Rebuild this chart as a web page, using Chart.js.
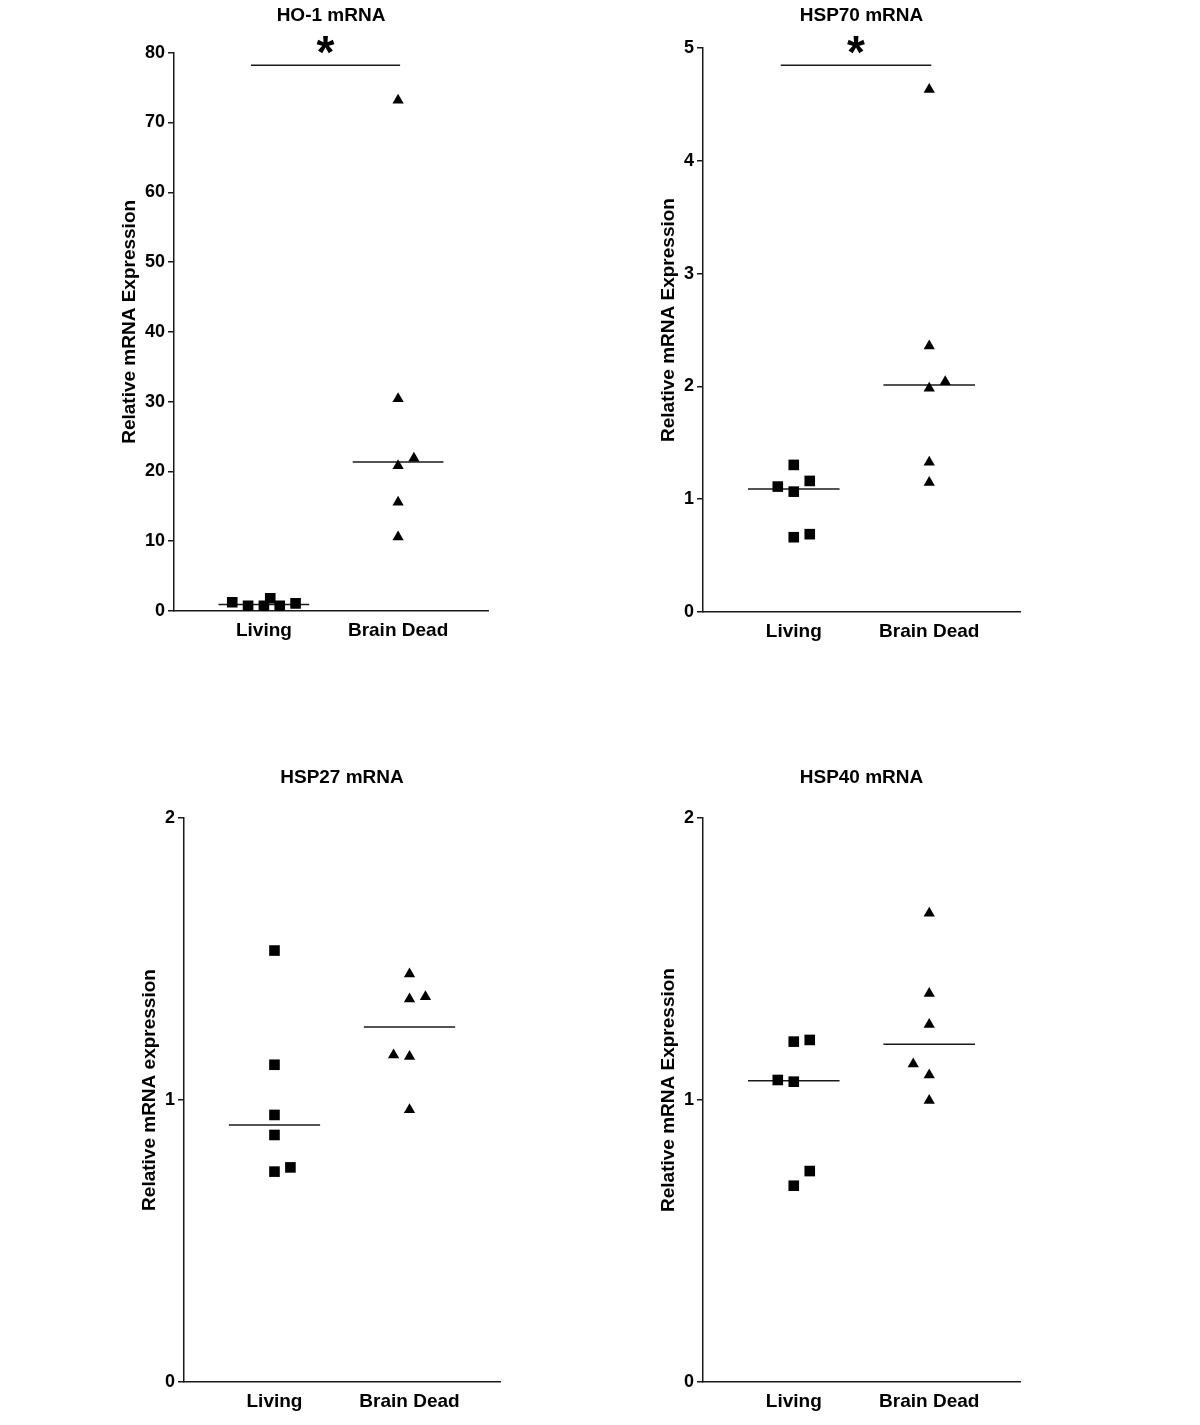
<!DOCTYPE html>
<html>
<head>
<meta charset="utf-8">
<title>Relative mRNA expression: Living vs Brain Dead</title>
<script src="https://cdn.jsdelivr.net/npm/chart.js@4.4.1/dist/chart.umd.min.js"></script>
<style>
  body { margin: 0; background: #fff; }
  #wrap { position: relative; width: 1200px; height: 1425px; }
  canvas { position: absolute; }
</style>
</head>
<body>
<div id="wrap">
  <canvas id="ho1Chart" width="600" height="700" style="left:0;top:0"></canvas>
  <canvas id="hsp70Chart" width="600" height="700" style="left:600px;top:0"></canvas>
  <canvas id="hsp27Chart" width="600" height="713" style="left:0;top:712px"></canvas>
  <canvas id="hsp40Chart" width="600" height="713" style="left:600px;top:712px"></canvas>
</div>
<script>
const groups = ['Living', 'Brain Dead'];

// HO-1 mRNA
const ho1Living = [1.25, 0.76, 0.76, 1.82, 0.76, 1.10];
const ho1LivingJitter = [-2, -1, 0, 0.4, 1, 2];
const ho1Dead = [73.2, 30.4, 21.9, 20.8, 15.6, 10.6];
const ho1DeadJitter = [0, 0, 1, 0, 0, 0];
const ho1Ticks = [0, 10, 20, 30, 40, 50, 60, 70, 80];
const ho1Sig = 78.2;

// HSP70 mRNA
const hsp70Living = [1.304, 1.162, 1.112, 1.067, 0.663, 0.690];
const hsp70LivingJitter = [0, 1, -1, 0, 0, 1];
const hsp70Dead = [4.631, 2.358, 2.042, 1.983, 1.328, 1.147];
const hsp70DeadJitter = [0, 0, 1, 0, 0, 0];
const hsp70Ticks = [0, 1, 2, 3, 4, 5];
const hsp70Sig = 4.847;

// HSP27 mRNA
const hsp27Living = [1.530, 1.125, 0.947, 0.876, 0.746, 0.761];
const hsp27LivingJitter = [0, 0, 0, 0, 0, 1];
const hsp27Dead = [1.447, 1.358, 1.366, 1.160, 1.154, 0.965];
const hsp27DeadJitter = [0, 0, 1, -1, 0, 0];
const hsp27Ticks = [0, 1, 2];

// HSP40 mRNA
const hsp40Living = [1.207, 1.213, 1.071, 1.065, 0.748, 0.696];
const hsp40LivingJitter = [0, 1, -1, 0, 1, 0];
const hsp40Dead = [1.662, 1.378, 1.268, 1.128, 1.089, 0.998];
const hsp40DeadJitter = [0, 0, 0, -1, 0, 0];
const hsp40Ticks = [0, 1, 2];

const JITTER = 0.118;     // one jitter slot, in category units
const HALF_LINE = 0.338;  // half width of the median line
const SIG_FROM = 0.904, SIG_TO = 2.015;
const INK = '#1a1a1a';
const FONT = '"Liberation Sans", Arial, Helvetica, sans-serif';

Chart.defaults.font.family = FONT;
Chart.defaults.color = '#000';

function median(arr) {
    const s = arr.slice().sort((a, b) => a - b);
    const m = Math.floor(s.length / 2);
    return s.length % 2 ? s[m] : (s[m - 1] + s[m]) / 2;
}

function points(values, jitter, pos) {
    return values.map((v, i) => ({ x: pos + jitter[i] * JITTER, y: v }));
}

function hLine(pos, value) {
    return [{ x: pos - HALF_LINE, y: value }, { x: pos + HALF_LINE, y: value }];
}

// panel title, y axis title and asterisk, drawn after the chart
const decorations = {
    id: 'decorations',
    afterDraw(chart, args, opts) {
        const ctx = chart.ctx;
        const area = chart.chartArea;
        ctx.save();
        ctx.fillStyle = '#000';
        ctx.font = 'bold 19px ' + FONT;
        ctx.textAlign = 'center';
        ctx.textBaseline = 'middle';
        ctx.fillText(opts.title, (area.left + area.right) / 2, opts.titleY);

        // y title sits a little above the middle of the axis, as in the original
        ctx.save();
        ctx.translate(area.left - opts.titleGap, (area.top + area.bottom) / 2 - 10);
        ctx.rotate(-Math.PI / 2);
        ctx.fillText(opts.yTitle, 0, 0);
        ctx.restore();

        if (opts.sig != null) {
            const x = chart.scales.x.getPixelForValue((SIG_FROM + SIG_TO) / 2);
            const y = chart.scales.y.getPixelForValue(opts.sig) - 20;
            ctx.font = 'bold 46px ' + FONT;
            ctx.textBaseline = 'alphabetic';
            const m = ctx.measureText('*');
            const mid = (m.actualBoundingBoxAscent - m.actualBoundingBoxDescent) / 2;
            ctx.fillText('*', x, y + mid);
        }
        ctx.restore();
    }
};

function makePanel(cfg) {
    const canvas = document.getElementById(cfg.id);
    const yWidth = cfg.titleGap + 12;
    const xHeight = 40;
    const datasets = [
        {
            data: points(cfg.living, cfg.livingJitter, 1),
            pointStyle: 'rect', pointRadius: 7.5,
            backgroundColor: '#000', borderColor: '#000', borderWidth: 0
        },
        {
            data: points(cfg.dead, cfg.deadJitter, 2),
            pointStyle: 'triangle', pointRadius: 6.5,
            backgroundColor: '#000', borderColor: '#000', borderWidth: 0
        },
        {
            type: 'line', data: hLine(1, median(cfg.living)),
            borderColor: INK, borderWidth: 1.5, pointRadius: 0
        },
        {
            type: 'line', data: hLine(2, median(cfg.dead)),
            borderColor: INK, borderWidth: 1.5, pointRadius: 0
        }
    ];
    if (cfg.sig != null) {
        datasets.push({
            type: 'line',
            data: [{ x: SIG_FROM, y: cfg.sig }, { x: SIG_TO, y: cfg.sig }],
            borderColor: INK, borderWidth: 1.5, pointRadius: 0
        });
    }

    new Chart(canvas, {
        type: 'scatter',
        data: { datasets: datasets },
        plugins: [decorations],
        options: {
            responsive: false,
            animation: false,
            events: [],
            layout: {
                padding: {
                    left: cfg.area.left - yWidth,
                    top: cfg.area.top,
                    right: canvas.width - cfg.area.right,
                    bottom: canvas.height - cfg.area.bottom - xHeight
                }
            },
            plugins: {
                legend: { display: false },
                tooltip: { enabled: false },
                decorations: {
                    title: cfg.title, titleY: cfg.titleY, sig: cfg.sig,
                    yTitle: cfg.yTitle, titleGap: cfg.titleGap
                }
            },
            scales: {
                x: {
                    type: 'linear',
                    min: 0.33,
                    max: 2.67,
                    afterBuildTicks: s => { s.ticks = groups.map((g, i) => ({ value: i + 1 })); },
                    afterFit: s => { s.height = xHeight; },
                    ticks: {
                        callback: v => groups[Math.round(v) - 1],
                        padding: 8,
                        maxRotation: 0,
                        autoSkip: false,
                        color: '#000',
                        font: { size: 19, weight: 'bold' }
                    },
                    grid: { display: false, drawTicks: false },
                    border: { display: true, color: INK, width: 1.5 }
                },
                y: {
                    min: cfg.ticks[0],
                    max: cfg.ticks[cfg.ticks.length - 1],
                    afterBuildTicks: s => { s.ticks = cfg.ticks.map(v => ({ value: v })); },
                    afterFit: s => { s.width = yWidth; },
                    ticks: {
                        padding: 3,
                        color: '#000',
                        font: { size: 18, weight: 'bold' }
                    },
                    grid: {
                        drawOnChartArea: false,
                        drawTicks: true,
                        tickLength: 6,
                        color: INK,
                        lineWidth: 1.5
                    },
                    border: { display: true, color: INK, width: 1.5 }
                }
            }
        }
    });
}

makePanel({
    id: 'ho1Chart', title: 'HO-1 mRNA', titleY: 16, yTitle: 'Relative mRNA Expression',
    living: ho1Living, livingJitter: ho1LivingJitter, dead: ho1Dead, deadJitter: ho1DeadJitter,
    ticks: ho1Ticks, sig: ho1Sig, titleGap: 44,
    area: { left: 174, top: 52.7, right: 488, bottom: 611 }
});

makePanel({
    id: 'hsp70Chart', title: 'HSP70 mRNA', titleY: 16, yTitle: 'Relative mRNA Expression',
    living: hsp70Living, livingJitter: hsp70LivingJitter, dead: hsp70Dead, deadJitter: hsp70DeadJitter,
    ticks: hsp70Ticks, sig: hsp70Sig, titleGap: 34,
    area: { left: 103, top: 48, right: 420, bottom: 612 }
});

makePanel({
    id: 'hsp27Chart', title: 'HSP27 mRNA', titleY: 66, yTitle: 'Relative mRNA expression',
    living: hsp27Living, livingJitter: hsp27LivingJitter, dead: hsp27Dead, deadJitter: hsp27DeadJitter,
    ticks: hsp27Ticks, sig: null, titleGap: 34,
    area: { left: 184, top: 106, right: 500, bottom: 670 }
});

makePanel({
    id: 'hsp40Chart', title: 'HSP40 mRNA', titleY: 66, yTitle: 'Relative mRNA Expression',
    living: hsp40Living, livingJitter: hsp40LivingJitter, dead: hsp40Dead, deadJitter: hsp40DeadJitter,
    ticks: hsp40Ticks, sig: null, titleGap: 34,
    area: { left: 103, top: 106, right: 420, bottom: 670 }
});
</script>
</body>
</html>
